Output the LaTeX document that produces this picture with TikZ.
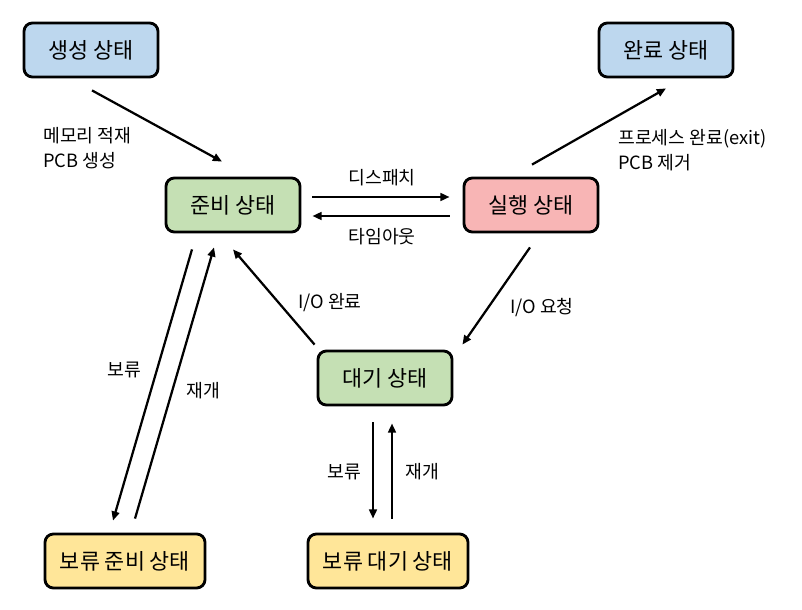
\documentclass[tikz,border=0pt]{standalone}
\usepackage{fontspec}
\setmainfont{Noto Sans CJK KR}
\usepackage{tikz}
\usetikzlibrary{arrows.meta,calc}

\definecolor{newblue}{HTML}{BDD7EE}
\definecolor{readygreen}{HTML}{C5E0B4}
\definecolor{runpink}{HTML}{F8B5B5}
\definecolor{susyellow}{HTML}{FFE699}

\begin{document}
\begin{tikzpicture}[x=0.025cm, y=-0.025cm,
    state/.style={draw, line width=2pt, rounded corners=6pt, minimum width=3.35cm,
        minimum height=1.35cm, font=\fontsize{15.5}{18}\selectfont},
    widestate/.style={state, minimum width=4cm},
    lbl/.style={font=\fontsize{13}{17.8}\selectfont, inner sep=0pt},
    arr/.style={-{Triangle[length=6.5pt,width=5.5pt]}, line width=1.6pt}]
        \useasboundingbox (0,0) rectangle (802,610);

        % states
        \node[state, fill=newblue] (new) at (91, 50) {생성 상태};
        \node[state, fill=newblue] (done) at (666, 50) {완료 상태};
        \node[state, fill=readygreen] (ready) at (233, 205) {준비 상태};
        \node[state, fill=runpink] (run) at (531, 205) {실행 상태};
        \node[state, fill=readygreen] (wait) at (385, 378) {대기 상태};
        \node[widestate, fill=susyellow] (susready) at (125, 561) {보류 준비 상태};
        \node[widestate, fill=susyellow] (suswait) at (388, 561) {보류 대기 상태};

        % transitions
        \draw[arr] ($(new.south)+(1,12)$) -- ($(ready.north)+(-11,-15)$);
        \draw[arr] ($(run.north)+(1,-12)$) -- ($(done.south)+(0,10)$);
        \draw[arr] ($(ready.east)+(11,-8)$) -- ($(run.west)+(-13,-8)$);
        \draw[arr] ($(run.west)+(-13,11)$) -- ($(ready.east)+(11,11)$);
        \draw[arr] ($(run.south)+(-1,14)$) -- ($(wait.north east)+(9,-5)$);
        \draw[arr] ($(wait.north west)+(-2,-5)$) -- ($(ready.south)+(0,16)$);
        \draw[arr] ($(ready.south)+(-41,16)$) -- ($(susready.north)+(-12,-12)$);
        \draw[arr] ($(susready.north)+(10,-14)$) -- ($(ready.south)+(-19,14)$);
        \draw[arr] ($(wait.south)+(-12,16)$) -- ($(suswait.north)+(-15,-14)$);
        \draw[arr] ($(suswait.north)+(4,-14)$) -- ($(wait.south)+(7,17)$);

        % labels
        \node[lbl, anchor=west, align=left] (loadlbl) at (43, 148) {메모리 적재\\PCB 생성};
        \node[lbl, anchor=west, align=left] (exitlbl) at (618, 150) {프로세스 완료(exit)\\PCB 제거};
        \node[lbl] (dispatchlbl) at (382, 178) {디스패치};
        \node[lbl] (timeoutlbl) at (382, 237) {타임아웃};
        \node[lbl] (iodonelbl) at (330, 303) {I/O 완료};
        \node[lbl] (ioreqlbl) at (542, 308) {I/O 요청};
        \node[lbl] (susplbl) at (124, 370) {보류};
        \node[lbl] (resumelbl) at (203, 391) {재개};
        \node[lbl] (susp2lbl) at (344, 472) {보류};
        \node[lbl] (resume2lbl) at (422, 472) {재개};
    \end{tikzpicture}
\end{document}
